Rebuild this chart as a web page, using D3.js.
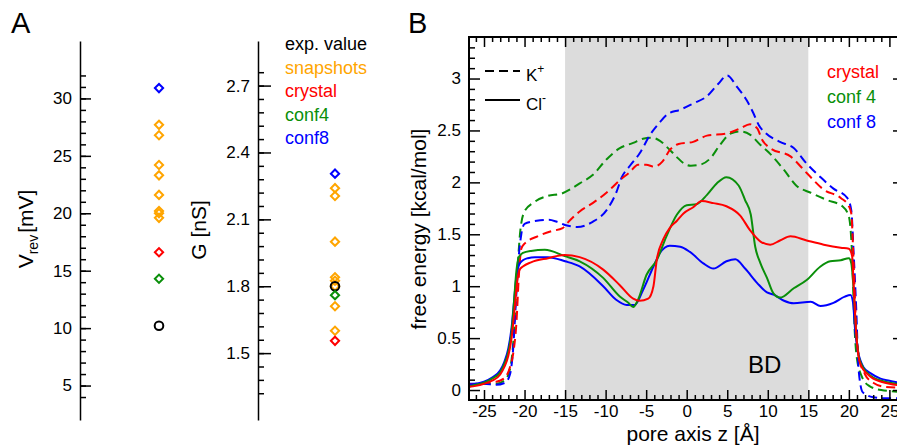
<!DOCTYPE html>
<html>
<head>
<meta charset="utf-8">
<script src="https://cdn.jsdelivr.net/npm/d3@7"></script>
<style>
  body { margin: 0; background: #fff; }
  svg { display: block; font-family: "Liberation Sans", Arial, Helvetica, sans-serif; }
</style>
</head>
<body>
<div id="chart"></div>
<script>
// Panel A: reversal potential [mV] and conductance [nS]
const vrevSnapshots = [27.7, 26.8, 24.2, 23.3, 21.6, 20.2, 20.0, 19.6];
const vrevCrystal = 16.6;
const vrevConf4 = 14.3;
const vrevConf8 = 30.9;
const vrevExp = 10.2;

const gSnapshots = [2.24, 2.205, 2.0, 1.84, 1.825, 1.80, 1.71, 1.60];
const gCrystal = 1.555;
const gConf4 = 1.76;
const gConf8 = 2.305;
const gExp = 1.80;

const vrevTicks = [5, 10, 15, 20, 25, 30];
const gTicks = [1.5, 1.8, 2.1, 2.4, 2.7];

const legendA = [
    { label: "exp. value", color: "#000000" },
    { label: "snapshots", color: "#ffa500" },
    { label: "crystal", color: "#ff0000" },
    { label: "conf4", color: "#0a8f0a" },
    { label: "conf8", color: "#0000ff" }
];

// Panel B: free energy profiles along the pore axis, [z (Å), kcal/mol]
const kCrystal = [[-27, 0.05], [-25, 0.07], [-23.5, 0.08], [-22.4, 0.12], [-21.8, 0.22], [-21.4, 0.35], [-21, 0.65], [-20.7, 1.1], [-20.4, 1.36], [-20, 1.41], [-18.4, 1.48], [-16.7, 1.53], [-15.3, 1.56], [-14.7, 1.61], [-13.2, 1.72], [-11.6, 1.8], [-9.9, 1.9], [-8.25, 2.02], [-7, 2.10], [-6, 2.17], [-5, 2.17], [-4, 2.15], [-3, 2.2], [-2, 2.32], [-1, 2.37], [0.8, 2.39], [2.5, 2.45], [4.9, 2.47], [6.6, 2.52], [7.8, 2.56], [8.7, 2.52], [9.3, 2.41], [10.3, 2.33], [12.8, 2.25], [14.8, 2.09], [16.9, 1.93], [19, 1.85], [20, 1.77], [20.3, 1.7], [20.6, 1.2], [20.9, 0.6], [21.3, 0.3], [22, 0.15], [23, 0.07], [24.5, 0.03], [27, 0.02]];
const kConf4 = [[-27, 0.05], [-25, 0.06], [-23.5, 0.06], [-22.4, 0.1], [-21.8, 0.2], [-21.4, 0.45], [-21.1, 0.85], [-20.8, 1.25], [-20.5, 1.55], [-20, 1.72], [-18.8, 1.81], [-17.1, 1.87], [-15.5, 1.89], [-14.2, 1.94], [-13.2, 1.99], [-11.6, 2.07], [-9.9, 2.22], [-8.25, 2.33], [-6.6, 2.38], [-5.4, 2.42], [-4.3, 2.43], [-3.3, 2.40], [-2.3, 2.33], [-1.3, 2.25], [-0.3, 2.18], [0.5, 2.16], [1.65, 2.17], [2.9, 2.23], [4.1, 2.36], [5.4, 2.47], [6.6, 2.49], [7.8, 2.46], [9.1, 2.36], [10.1, 2.29], [12, 2.12], [13.5, 1.97], [15.3, 1.9], [17.3, 1.83], [19.2, 1.77], [20, 1.67], [20.4, 1.3], [20.7, 0.6], [21, 0.3], [21.6, 0.13], [22.5, 0.04], [24, 0.0], [27, -0.02]];
const kConf8 = [[-27, 0.06], [-25, 0.06], [-23.5, 0.05], [-22.4, 0.07], [-21.8, 0.15], [-21.4, 0.4], [-21.1, 0.8], [-20.8, 1.2], [-20.4, 1.5], [-20, 1.6], [-18.5, 1.63], [-17, 1.64], [-16, 1.62], [-15, 1.59], [-13.5, 1.57], [-11.6, 1.62], [-9.9, 1.73], [-8.7, 1.9], [-8, 2.05], [-7, 2.16], [-5.8, 2.28], [-4.5, 2.46], [-3.3, 2.58], [-2.3, 2.66], [-0.8, 2.70], [0.8, 2.76], [2.5, 2.83], [3.9, 2.95], [5.0, 3.03], [6.2, 2.92], [7.4, 2.79], [8.2, 2.67], [8.9, 2.55], [9.8, 2.47], [11.5, 2.39], [13.2, 2.33], [14.8, 2.18], [16.5, 2.05], [18.1, 1.94], [19.8, 1.85], [20.3, 1.73], [20.6, 1.3], [20.9, 0.8], [21.2, 0.2], [21.7, -0.02], [23, -0.07], [24.5, -0.08], [27, -0.08]];

const clCrystal = [[-27, 0.03], [-26, 0.04], [-25, 0.06], [-24, 0.09], [-23, 0.15], [-22.5, 0.22], [-22, 0.33], [-21.6, 0.5], [-21.2, 0.8], [-20.9, 1.05], [-20.6, 1.16], [-20.2, 1.19], [-19.2, 1.23], [-17.1, 1.27], [-15.05, 1.30], [-13.2, 1.28], [-10.3, 1.16], [-8.25, 1.01], [-6.6, 0.88], [-5.8, 0.86], [-4.75, 0.88], [-4.1, 1.0], [-3.7, 1.25], [-2.9, 1.45], [-2.1, 1.56], [-1.2, 1.63], [-0.4, 1.70], [0.8, 1.76], [1.85, 1.82], [3.3, 1.80], [4.9, 1.77], [6.6, 1.68], [7.8, 1.54], [9.1, 1.43], [10.3, 1.40], [11.5, 1.44], [12.8, 1.48], [14.8, 1.44], [16.9, 1.40], [19, 1.37], [20, 1.36], [20.4, 1.29], [20.6, 1.0], [20.9, 0.55], [21.2, 0.32], [21.6, 0.22], [22.2, 0.16], [23, 0.11], [24, 0.08], [25, 0.06], [27, 0.04]];
const clConf4 = [[-27, 0.03], [-26, 0.05], [-25, 0.07], [-24, 0.11], [-23, 0.17], [-22.5, 0.25], [-22, 0.37], [-21.6, 0.56], [-21.3, 0.85], [-21, 1.15], [-20.7, 1.28], [-20.2, 1.32], [-19.2, 1.34], [-17.5, 1.35], [-15.05, 1.29], [-13.2, 1.24], [-10.3, 1.08], [-8.25, 0.9], [-7.2, 0.84], [-6.6, 0.80], [-6, 0.87], [-4.95, 1.11], [-3.7, 1.25], [-2.5, 1.48], [-1.2, 1.69], [0, 1.78], [1.2, 1.79], [2.5, 1.88], [3.7, 1.99], [4.9, 2.05], [6.4, 1.97], [7.2, 1.83], [7.9, 1.69], [8.45, 1.38], [9.1, 1.22], [9.9, 1.08], [10.7, 0.93], [11.5, 0.89], [13.2, 0.98], [14.8, 1.06], [16.5, 1.19], [17.7, 1.24], [19, 1.25], [20, 1.27], [20.3, 1.22], [20.6, 0.95], [20.9, 0.55], [21.2, 0.33], [21.6, 0.24], [22.2, 0.17], [23, 0.12], [24, 0.09], [25, 0.07], [27, 0.05]];
const clConf8 = [[-27, 0.05], [-26, 0.06], [-25, 0.08], [-24, 0.12], [-23, 0.19], [-22.5, 0.27], [-22, 0.4], [-21.6, 0.6], [-21.3, 0.85], [-21, 1.1], [-20.7, 1.2], [-20.2, 1.25], [-19.6, 1.27], [-18.7, 1.28], [-17.1, 1.28], [-15, 1.24], [-13.2, 1.19], [-10.3, 1.0], [-8.7, 0.87], [-7.4, 0.82], [-6.4, 0.82], [-5.4, 0.96], [-4.1, 1.19], [-3.3, 1.32], [-2.1, 1.39], [-0.8, 1.38], [0.4, 1.33], [2.05, 1.22], [3.3, 1.17], [4.9, 1.24], [6.0, 1.26], [7.2, 1.17], [8.7, 1.03], [9.9, 0.94], [10.7, 0.92], [12, 0.86], [13.2, 0.835], [15.3, 0.85], [16.5, 0.81], [18.1, 0.84], [19.5, 0.9], [20.2, 0.915], [20.5, 0.85], [20.8, 0.55], [21.1, 0.38], [21.4, 0.29], [21.8, 0.22], [22.7, 0.16], [23.9, 0.11], [25, 0.09], [27, 0.06]];

const bdRange = [-15, 15];
const zTicks = [-25, -20, -15, -10, -5, 0, 5, 10, 15, 20, 25];
const eTicks = [0, 0.5, 1, 1.5, 2, 2.5, 3];

const colors = { crystal: "#ff0000", conf4: "#0a8f0a", conf8: "#0000ff" };

const width = 897, height = 447;
const svg = d3.select("#chart").append("svg")
    .attr("width", width)
    .attr("height", height);

// ---------- Panel A ----------
const yV = d3.scaleLinear().domain([2, 35]).range([420, 41]);
const yG = d3.scaleLinear().domain([1.2, 2.9]).range([420, 41]);
const xVaxis = 80, xGaxis = 258, xVpts = 159, xGpts = 335;

function drawAxisA(x, scale, major, minor, majorLen) {
    const g = svg.append("g").attr("transform", `translate(${x},0)`);
    g.append("g")
        .call(d3.axisLeft(scale).tickValues(minor).tickSize(-6).tickFormat(""))
        .call(s => s.select(".domain").remove());
    g.append("g")
        .call(d3.axisLeft(scale).tickValues(major).tickSize(-majorLen).tickSizeOuter(0)
            .tickPadding(8).tickFormat(d => String(d)))
        .attr("font-size", 17)
        .attr("font-family", null);
    g.selectAll("line, path").attr("stroke-width", 1.5);
}

drawAxisA(xVaxis, yV, vrevTicks, d3.range(4, 33), 11);
drawAxisA(xGaxis, yG, gTicks, d3.range(0, 25).map(i => +(1.32 + i * 0.06).toFixed(2)), 13);

const diamond = d3.symbol(d3.symbolSquare, 34);

function drawPoints(x, scale, snaps, exp, crystal, conf4, conf8) {
    svg.append("g").selectAll("path")
        .data(snaps)
        .join("path")
        .attr("d", diamond())
        .attr("transform", d => `translate(${x},${scale(d)}) rotate(45)`)
        .attr("fill", "none")
        .attr("stroke", "#ffa500")
        .attr("stroke-width", 2);

    svg.append("circle")
        .attr("cx", x)
        .attr("cy", scale(exp))
        .attr("r", 4.3)
        .attr("fill", "none")
        .attr("stroke", "#000")
        .attr("stroke-width", 2);

    [[crystal, colors.crystal], [conf4, colors.conf4], [conf8, colors.conf8]].forEach(([v, c]) => {
        svg.append("path")
            .attr("d", diamond())
            .attr("transform", `translate(${x},${scale(v)}) rotate(45)`)
            .attr("fill", "none")
            .attr("stroke", c)
            .attr("stroke-width", 2);
    });
}

drawPoints(xVpts, yV, vrevSnapshots, vrevExp, vrevCrystal, vrevConf4, vrevConf8);
drawPoints(xGpts, yG, gSnapshots, gExp, gCrystal, gConf4, gConf8);

// axis titles
const vLabel = svg.append("text")
    .attr("transform", "translate(33,229) rotate(-90)")
    .attr("text-anchor", "middle")
    .attr("font-size", 21);
vLabel.append("tspan").text("V");
vLabel.append("tspan").text("rev").attr("font-size", 14).attr("dy", 5);
vLabel.append("tspan").text("[mV]").attr("dy", -5).attr("dx", 2);

svg.append("text")
    .attr("transform", "translate(206,230) rotate(-90)")
    .attr("text-anchor", "middle")
    .attr("font-size", 21)
    .text("G [nS]");

svg.append("g").selectAll("text")
    .data(legendA)
    .join("text")
    .attr("x", 285)
    .attr("y", (d, i) => 50 + i * 23.5)
    .attr("font-size", 18)
    .attr("fill", d => d.color)
    .text(d => d.label);

svg.append("text").attr("x", 11).attr("y", 33).attr("font-size", 29).text("A");

// ---------- Panel B ----------
const plot = { left: 469, right: 904, top: 37, bottom: 400 };
const xB = d3.scaleLinear().domain([-26.85, 26.8]).range([plot.left, plot.right]);
const yB = d3.scaleLinear().domain([-0.096, 3.4]).range([plot.bottom, plot.top]);

svg.append("defs").append("clipPath").attr("id", "clipB")
    .append("rect")
    .attr("x", plot.left).attr("y", plot.top)
    .attr("width", plot.right - plot.left).attr("height", plot.bottom - plot.top);

svg.append("rect")
    .attr("x", xB(bdRange[0]))
    .attr("y", plot.top)
    .attr("width", xB(bdRange[1]) - xB(bdRange[0]))
    .attr("height", plot.bottom - plot.top)
    .attr("fill", "#dcdcdc");

svg.append("text")
    .attr("x", 748).attr("y", 373)
    .attr("font-size", 24)
    .text("BD");

const line = d3.line()
    .x(d => xB(d[0]))
    .y(d => yB(d[1]))
    .curve(d3.curveMonotoneX);

const curves = [
    { data: kConf4, color: colors.conf4, dash: "9,5" },
    { data: kConf8, color: colors.conf8, dash: "9,5" },
    { data: kCrystal, color: colors.crystal, dash: "9,5" },
    { data: clConf8, color: colors.conf8, dash: null },
    { data: clConf4, color: colors.conf4, dash: null },
    { data: clCrystal, color: colors.crystal, dash: null }
];

svg.append("g")
    .attr("clip-path", "url(#clipB)")
    .selectAll("path")
    .data(curves)
    .join("path")
    .attr("d", d => line(d.data))
    .attr("fill", "none")
    .attr("stroke", d => d.color)
    .attr("stroke-width", 2)
    .attr("stroke-dasharray", d => d.dash);

// axes and frame
const zMinor = d3.range(-26, 27).filter(v => v % 5 !== 0);
const eMinor = d3.range(0, 34).map(i => +(i * 0.1).toFixed(1)).filter(v => !eTicks.includes(v));

function styleAxis(g) {
    g.attr("font-size", 17).attr("font-family", null);
    g.select(".domain").remove();
    g.selectAll("line").attr("stroke-width", 1.5);
}

svg.append("g").attr("transform", `translate(0,${plot.bottom})`)
    .call(d3.axisBottom(xB).tickValues(zMinor).tickSize(-5).tickFormat(""))
    .call(styleAxis);
svg.append("g").attr("transform", `translate(0,${plot.bottom})`)
    .call(d3.axisBottom(xB).tickValues(zTicks).tickSize(-10).tickPadding(5).tickFormat(d => String(d)))
    .call(styleAxis);
svg.append("g").attr("transform", `translate(0,${plot.top})`)
    .call(d3.axisTop(xB).tickValues(zMinor).tickSize(-5).tickFormat(""))
    .call(styleAxis);
svg.append("g").attr("transform", `translate(0,${plot.top})`)
    .call(d3.axisTop(xB).tickValues(zTicks).tickSize(-10).tickFormat(""))
    .call(styleAxis);

svg.append("g").attr("transform", `translate(${plot.left},0)`)
    .call(d3.axisLeft(yB).tickValues(eMinor).tickSize(-6).tickFormat(""))
    .call(styleAxis);
svg.append("g").attr("transform", `translate(${plot.left},0)`)
    .call(d3.axisLeft(yB).tickValues(eTicks).tickSize(-11).tickPadding(8).tickFormat(d => String(d)))
    .call(styleAxis);
svg.append("g").attr("transform", `translate(${plot.right},0)`)
    .call(d3.axisRight(yB).tickValues(eTicks).tickSize(-11).tickFormat(""))
    .call(styleAxis);

svg.append("rect")
    .attr("x", plot.left).attr("y", plot.top)
    .attr("width", plot.right - plot.left).attr("height", plot.bottom - plot.top)
    .attr("fill", "none")
    .attr("stroke", "#000")
    .attr("stroke-width", 2);

svg.append("text")
    .attr("x", 693).attr("y", 441)
    .attr("text-anchor", "middle")
    .attr("font-size", 21)
    .text("pore axis z [Å]");

svg.append("text")
    .attr("transform", "translate(426,229) rotate(-90)")
    .attr("text-anchor", "middle")
    .attr("font-size", 21)
    .text("free energy [kcal/mol]");

// ion legend
const ionLegend = [
    { ion: "K", charge: "+", dash: "9,5", y: 71 },
    { ion: "Cl", charge: "-", dash: null, y: 100 }
];
ionLegend.forEach(d => {
    svg.append("line")
        .attr("x1", 485).attr("x2", 520)
        .attr("y1", d.y).attr("y2", d.y)
        .attr("stroke", "#000")
        .attr("stroke-width", 2)
        .attr("stroke-dasharray", d.dash);
    const t = svg.append("text")
        .attr("x", 526).attr("y", d.y + 10)
        .attr("font-size", 17);
    t.append("tspan").text(d.ion);
    t.append("tspan").text(d.charge).attr("font-size", 12).attr("dy", -8);
});

const confLegend = [
    { label: "crystal", color: colors.crystal },
    { label: "conf 4", color: colors.conf4 },
    { label: "conf 8", color: colors.conf8 }
];
svg.append("g").selectAll("text")
    .data(confLegend)
    .join("text")
    .attr("x", 827)
    .attr("y", (d, i) => 78 + i * 25)
    .attr("font-size", 18)
    .attr("fill", d => d.color)
    .text(d => d.label);

svg.append("text").attr("x", 408).attr("y", 33).attr("font-size", 29).text("B");
</script>
</body>
</html>
